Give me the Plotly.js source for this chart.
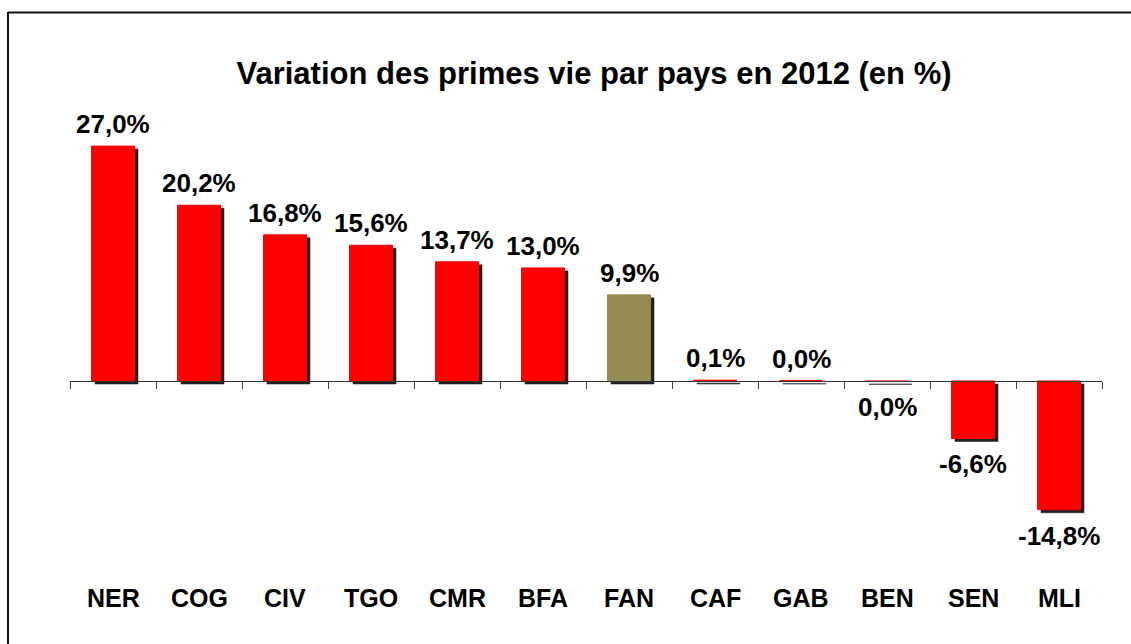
<!DOCTYPE html>
<html>
<head>
<meta charset="utf-8">
<script src="https://cdn.plot.ly/plotly-3.0.1.min.js"></script>
<style>
  html, body { margin: 0; padding: 0; background: #fff; }
  #chart { width: 1131px; height: 644px; }
</style>
</head>
<body>
<div id="chart"></div>
<script>
// ---- Data ----
const categories = ['NER', 'COG', 'CIV', 'TGO', 'CMR', 'BFA', 'FAN', 'CAF', 'GAB', 'BEN', 'SEN', 'MLI'];
const values = [27.0, 20.2, 16.8, 15.6, 13.7, 13.0, 9.9, 0.1, 0.04, -0.04, -6.6, -14.8];
const valueLabels = ['27,0%', '20,2%', '16,8%', '15,6%', '13,7%', '13,0%', '9,9%', '0,1%', '0,0%', '0,0%', '-6,6%', '-14,8%'];
const barColors = ['#FF0000', '#FF0000', '#FF0000', '#FF0000', '#FF0000', '#FF0000', '#948A54', '#FF0000', '#FF0000', '#FF0000', '#FF0000', '#FF0000'];
const chartTitle = 'Variation des primes vie par pays en 2012 (en %)';

// ---- Layout geometry ----
const W = 1131, H = 644;
const M = { l: 70, r: 29, t: 110, b: 88 };
const plotW = W - M.l - M.r, plotH = H - M.t - M.b;
const pxPerUnit = 8.7;
const zeroPx = 381;
const yMax = (zeroPx - M.t) / pxPerUnit;
const yMin = -(H - M.b - zeroPx) / pxPerUnit;
const zeroPaper = (0 - yMin) / (yMax - yMin);

const barWidth = 0.5;
const shadowDx = 3.5 / (plotW / categories.length);
const shadowDy = 3 / pxPerUnit;

const FONT = 'Liberation Sans, Arial, sans-serif';

const shadow = {
  type: 'bar',
  x: categories,
  y: values,
  base: values.map(() => -shadowDy),
  width: barWidth,
  offset: -barWidth / 2 + shadowDx,
  marker: { color: 'rgba(10,10,10,0.9)', line: { width: 1, color: 'rgba(20,20,20,0.5)' } },
  hoverinfo: 'skip',
  showlegend: false
};

const bars = {
  type: 'bar',
  x: categories,
  y: values,
  width: barWidth,
  offset: -barWidth / 2,
  marker: { color: barColors, line: { width: 1, color: barColors } },
  showlegend: false,
  hovertemplate: '%{x}: %{y}<extra></extra>'
};

const annotations = [];
categories.forEach((c, i) => {
  const v = values[i];
  annotations.push({
    x: c, y: v, xref: 'x', yref: 'y',
    text: valueLabels[i],
    showarrow: false,
    yanchor: v >= 0 ? 'bottom' : 'top',
    yshift: v >= 0 ? 5 : -9,
    font: { family: FONT, size: 26, color: '#000', weight: 700 }
  });
  annotations.push({
    x: c, y: (H - M.b - 598) / plotH, xref: 'x', yref: 'paper',
    text: c,
    showarrow: false,
    yanchor: 'middle',
    font: { family: FONT, size: 25, color: '#000', weight: 700 }
  });
});

// frame (left + top edges, as in the reference)
const px2x = p => (p - M.l) / plotW;
const py2y = p => (H - M.b - p) / plotH;
const shapes = [
  { type: 'line', xref: 'paper', yref: 'paper', x0: px2x(8), x1: px2x(8), y0: py2y(12), y1: py2y(660), line: { color: '#111', width: 2 } },
  { type: 'line', xref: 'paper', yref: 'paper', x0: px2x(8), x1: px2x(1140), y0: py2y(12.5), y1: py2y(12.5), line: { color: '#111', width: 2 } }
];

const layout = {
  width: W, height: H,
  margin: M,
  paper_bgcolor: '#fff',
  plot_bgcolor: 'rgba(0,0,0,0)',
  barmode: 'overlay',
  title: {
    text: chartTitle,
    x: 594 / W, xref: 'container', xanchor: 'center',
    y: 1 - 73 / H, yref: 'container', yanchor: 'middle',
    font: { family: FONT, size: 31, color: '#000', weight: 700 }
  },
  xaxis: {
    type: 'category',
    range: [-0.5, categories.length - 0.5],
    anchor: 'free',
    position: zeroPaper,
    showline: true, linecolor: '#333', linewidth: 1,
    ticks: 'outside', ticklen: 7, tickcolor: '#444', tickwidth: 1,
    tickson: 'boundaries',
    showticklabels: false,
    showgrid: false, zeroline: false,
    fixedrange: true
  },
  yaxis: {
    range: [yMin, yMax],
    visible: false,
    showgrid: false, zeroline: false,
    fixedrange: true
  },
  annotations: annotations,
  shapes: shapes
};

Plotly.newPlot('chart', [shadow, bars], layout, { displayModeBar: false, staticPlot: true });
</script>
</body>
</html>
